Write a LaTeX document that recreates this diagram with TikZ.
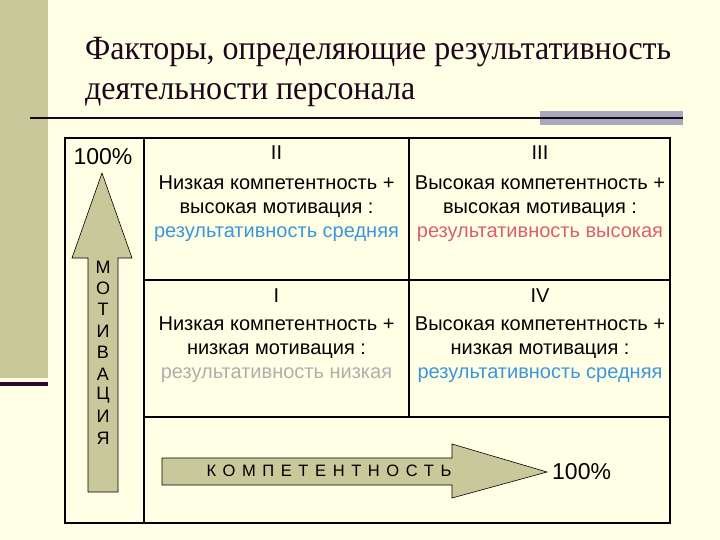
\documentclass[tikz,border=0pt]{standalone}
\usepackage{fontspec}
\setmainfont{Liberation Sans}
\newfontfamily\titlefont{Liberation Serif}
\definecolor{bg}{RGB}{255,255,230}
\definecolor{khaki}{RGB}{200,200,152}
\definecolor{arrowfill}{RGB}{200,200,155}
\definecolor{darkpurple}{RGB}{45,5,45}
\definecolor{greybar}{RGB}{168,168,188}
\definecolor{midblue}{RGB}{60,150,220}
\definecolor{highred}{RGB}{220,95,110}
\definecolor{lowgrey}{RGB}{175,175,175}
\definecolor{titlecol}{RGB}{30,5,25}
\tikzset{
  cell/.style={align=center, font=\fontsize{20}{24}\selectfont, inner sep=0pt},
  outerframe/.style={line width=2.6pt},
  innerline/.style={line width=1.5pt},
  bigarrow/.style={fill=arrowfill, draw=black, line width=0.6pt, line join=miter},
  pct/.style={font=\fontsize{23}{26}\selectfont, inner sep=0pt},
  vletter/.style={font=\fontsize{18}{20}\selectfont, inner sep=0pt},
  titletext/.style={font=\titlefont\fontsize{34}{40}\selectfont, text=titlecol, anchor=base west, inner sep=0pt}
}
\begin{document}
\begin{tikzpicture}[x=1pt,y=-1pt]
\useasboundingbox (0,0) rectangle (720,540);
\fill[bg] (0,0) rectangle (720,540);
% sidebar
\fill[khaki] (0,0) rectangle (48,378);
\fill[darkpurple] (0,381.5) rectangle (48,386);
% title
\node[titletext] (t1) at (85,60) {\scalebox{0.94}[1]{Факторы, определяющие результативность}};
\node[titletext] (t2) at (85,100) {\scalebox{0.94}[1]{деятельности персонала}};
% title rule
\fill[greybar] (540,111) rectangle (683,125);
\draw[line width=1.6pt, darkpurple!60!black] (30,118) -- (683,118);
% grid
\draw[innerline] (144,138) -- (144,523);
\draw[innerline] (409,138) -- (409,417);
\draw[innerline] (144,280) -- (670,280);
\draw[innerline] (144,417) -- (670,417);
\draw[outerframe] (65,138) rectangle (670,523);
% cells
\node[cell] (q2) at (276.5,194) {II\\[6pt]Низкая компетентность +\\высокая мотивация :\\\textcolor{midblue}{результативность средняя}};
\node[cell] (q3) at (540,194) {III\\[6pt]Высокая компетентность +\\высокая мотивация :\\\textcolor{highred}{результативность высокая}};
\node[cell] (q1) at (276.5,336) {I\\[4pt]Низкая компетентность +\\низкая мотивация :\\\textcolor{lowgrey}{результативность низкая}};
\node[cell] (q4) at (540,336) {IV\\[4pt]Высокая компетентность +\\низкая мотивация :\\\textcolor{midblue}{результативность средняя}};
% vertical arrow
\draw[bigarrow] (88,492) -- (88,258) -- (72,258) -- (102,173) -- (132,258) -- (118,258) -- (118,492) -- cycle;
\node[pct] (p1) at (103,157) {100\%};
\foreach \l [count=\i from 0] in {М,О,Т,И,В,А,Ц,И,Я}
  \node[vletter] (m\i) at (103,{267+21.4*\i}) {\l};
% horizontal arrow
\draw[bigarrow] (162,458) -- (452,458) -- (452,444) -- (547,472) -- (452,498) -- (452,485) -- (162,485) -- cycle;
\node[inner sep=0pt, font=\fontsize{16.5}{18}\selectfont\addfontfeature{LetterSpace=40}] (komp) at (329,471) {КОМПЕТЕНТНОСТЬ};
\node[pct, anchor=west] (p2) at (552,472) {100\%};
\end{tikzpicture}
\end{document}
